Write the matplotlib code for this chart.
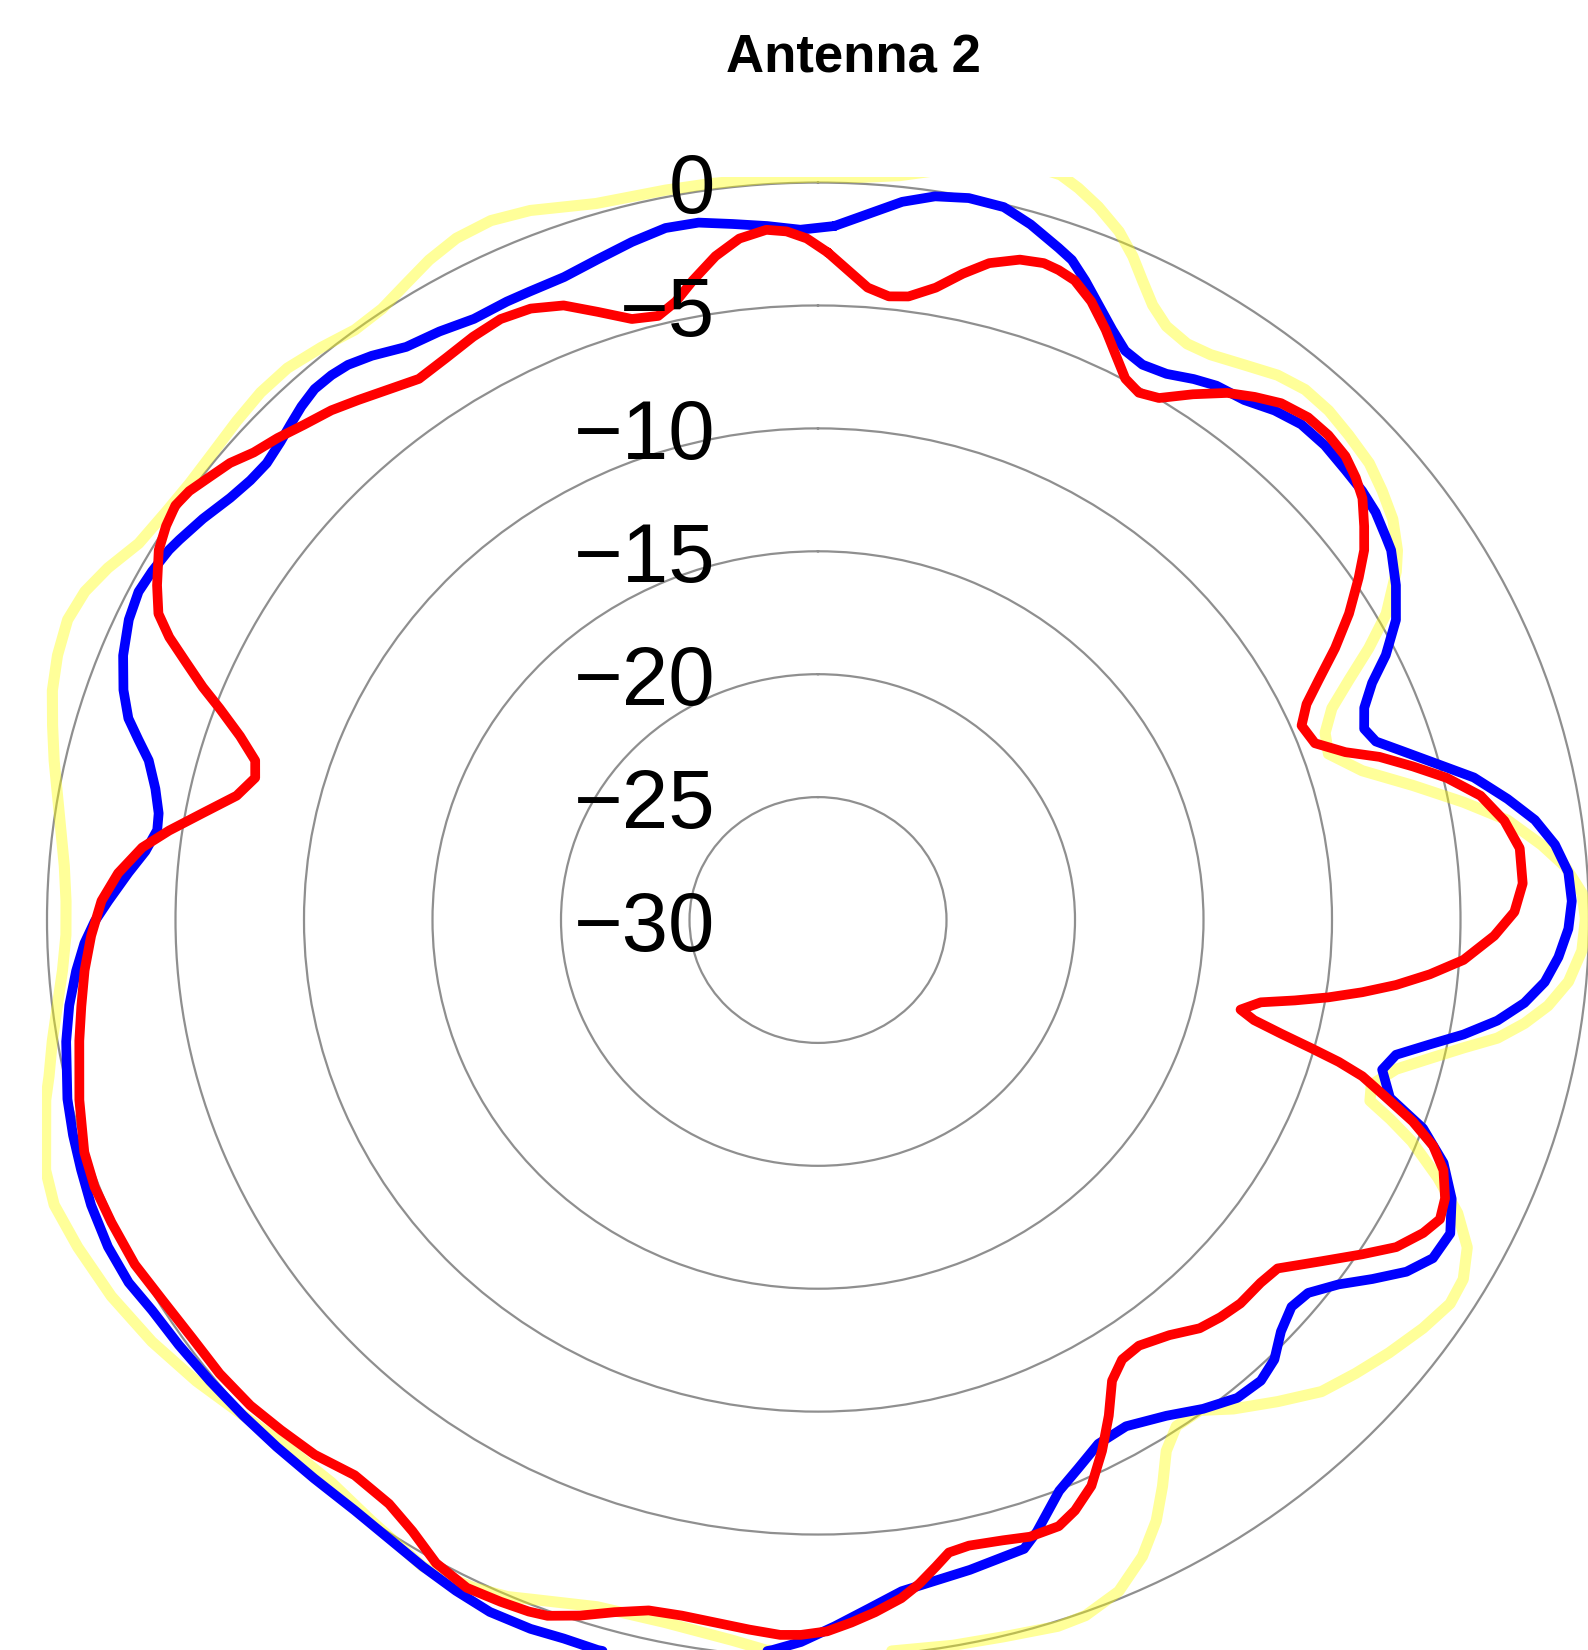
import numpy as np
import matplotlib
matplotlib.use('Agg')
import matplotlib.pyplot as plt
from matplotlib.patches import Rectangle
from matplotlib.transforms import offset_copy

plt.rcParams['font.family'] = ['Liberation Sans', 'DejaVu Sans']

title = 'Antenna 2'
ring_levels = [-25, -20, -15, -10, -5, 0]
label_levels = [0, -5, -10, -15, -20, -25, -30]
label_texts = ['0', '\u22125', '\u221210', '\u221215', '\u221220', '\u221225', '\u221230']

# angle in degrees, clockwise from the top; level in dB
blue_theta = [1.3, 3.9, 6.4, 8.8, 11.3, 14.0, 16.3, 18.9, 20.2, 21.8,
              23.6, 25.5, 27.3, 29.2, 31.4, 33.6, 35.5, 38.1, 40.6, 43.0,
              45.6, 48.3, 50.5, 52.6, 54.8, 56.0, 58.8, 61.5, 64.0, 65.9,
              67.9, 69.9, 71.5, 73.2, 75.2, 77.2, 79.6, 81.7, 83.9, 86.2,
              88.5, 90.7, 93.0, 95.1, 97.0, 98.8, 100.5, 102.0, 103.7, 105.5,
              108.0, 109.8, 112.1, 114.7, 117.4, 119.9, 122.0, 124.1, 126.2, 128.5,
              130.5, 132.9, 135.2, 137.4, 140.0, 143.0, 146.1, 149.8, 152.9, 155.6,
              158.0, 161.1, 162.6, 167.4, 170.3, 173.2, 176.0, 178.7, 181.3, 183.4,
              187.0, 191.0, 194.0, 196.1, 198.7, 201.2, 204.4, 207.3, 210.3, 213.6,
              216.9, 220.8, 224.5, 228.0, 231.6, 235.2, 238.5, 241.2, 244.3, 247.7,
              250.5, 253.2, 256.0, 260.4, 263.2, 265.9, 268.1, 269.9, 271.6, 274.1,
              276.1, 278.1, 279.6, 281.7, 284.0, 285.5, 287.0, 289.1, 291.7, 294.5,
              296.8, 298.7, 300.8, 301.9, 304.3, 306.9, 309.0, 310.9, 312.9, 314.5,
              316.1, 317.8, 319.5, 321.0, 322.9, 325.5, 328.4, 331.3, 334.3, 336.3,
              339.3, 342.3, 345.3, 348.1, 350.7, 353.3, 356.0, 358.6]
blue_db = [-1.76, -1.21, -0.60, -0.21, -0.05, -0.11, -0.52, -1.10, -1.39, -1.99,
           -2.71, -3.40, -3.94, -4.12, -3.97, -3.58, -3.30, -3.12, -2.70, -2.43,
           -2.40, -2.50, -2.56, -2.69, -2.96, -3.10, -3.71, -4.41, -5.42, -6.38,
           -7.06, -7.37, -7.11, -6.24, -5.11, -3.83, -2.72, -1.81, -1.16, -0.74,
           -0.66, -0.80, -1.15, -1.61, -2.31, -3.25, -4.45, -5.66, -6.85, -7.22,
           -6.60, -4.98, -3.73, -2.86, -2.29, -2.40, -3.00, -3.95, -4.90, -5.63,
           -5.77, -5.41, -4.80, -4.54, -4.62, -5.10, -5.70, -6.17, -6.06, -5.50,
           -4.95, -3.70, -3.19, -2.91, -2.74, -2.50, -1.91, -1.26, -0.62, -0.25,
           0.30, 0.70, 0.85, 0.91, 0.86, 0.93, 0.91, 0.71, 0.47, 0.20,
           0.03, 0.01, 0.05, 0.11, 0.19, 0.29, 0.39, 0.61, 0.66, 0.57,
           0.42, 0.28, 0.10, -0.33, -0.66, -1.06, -1.44, -1.86, -2.37, -3.10,
           -3.68, -4.03, -3.98, -3.67, -3.16, -2.56, -1.94, -1.40, -0.90, -0.53,
           -0.38, -0.46, -0.60, -0.73, -1.03, -1.40, -1.58, -1.62, -1.44, -1.23,
           -1.01, -0.84, -0.85, -0.94, -1.22, -1.71, -1.89, -2.12, -2.08, -2.08,
           -2.04, -1.79, -1.48, -1.23, -1.25, -1.49, -1.70, -1.91]

red_theta = [0.8, 2.5, 4.3, 6.2, 7.9, 10.1, 12.1, 14.0, 16.3, 18.2,
             19.5, 21.0, 22.9, 25.0, 26.7, 28.5, 30.2, 32.0, 34.3, 36.6,
             38.6, 40.6, 43.0, 45.2, 47.4, 49.3, 51.0, 53.0, 54.7, 56.5,
             58.9, 61.2, 63.4, 65.2, 67.2, 69.6, 71.6, 73.1, 74.9, 76.7,
             78.9, 81.4, 83.9, 86.9, 89.3, 91.4, 93.7, 95.3, 96.7, 97.9,
             99.0, 100.0, 101.0, 102.5, 103.5, 104.4, 105.2, 105.9, 106.7, 107.9,
             109.5, 111.0, 112.7, 114.9, 116.7, 118.4, 120.6, 122.7, 125.3, 128.4,
             130.6, 133.5, 135.9, 138.2, 141.0, 144.2, 146.5, 148.6, 150.7, 152.9,
             155.2, 157.4, 159.2, 161.8, 164.1, 167.0, 168.8, 170.1, 171.7, 173.3,
             175.5, 177.4, 179.3, 181.3, 182.9, 185.3, 187.9, 190.6, 193.2, 195.7,
             198.1, 200.4, 201.8, 204.0, 206.7, 209.6, 212.4, 215.1, 218.6, 222.0,
             225.2, 228.2, 231.6, 235.0, 238.8, 242.2, 245.9, 248.9, 251.7, 255.7,
             260.3, 263.0, 265.9, 268.7, 271.6, 274.0, 276.4, 278.2, 280.3, 282.6,
             284.8, 286.5, 288.4, 290.3, 291.6, 293.1, 294.5, 295.9, 297.9, 300.4,
             302.3, 304.0, 305.5, 307.3, 309.1, 310.9, 313.0, 315.2, 317.6, 319.8,
             322.3, 324.8, 327.7, 330.5, 333.2, 335.8, 338.4, 340.9, 343.5, 345.8,
             347.6, 349.4, 351.6, 353.7, 355.9, 357.5, 359.1]
red_db = [-2.84, -3.53, -4.20, -4.48, -4.39, -3.87, -3.11, -2.46, -2.01, -1.87,
          -1.95, -2.13, -2.68, -3.51, -4.24, -4.94, -5.18, -4.96, -4.11, -3.29,
          -2.77, -2.31, -2.04, -2.01, -2.12, -2.40, -2.74, -3.39, -3.96, -4.77,
          -5.87, -7.04, -8.22, -9.06, -9.59, -9.37, -8.37, -7.17, -6.02, -4.86,
          -3.73, -2.99, -2.54, -2.54, -2.90, -3.68, -4.83, -6.09, -7.35, -8.62,
          -9.89, -11.16, -12.45, -13.16, -12.55, -11.39, -10.11, -8.93, -7.89, -6.90,
          -5.45, -4.36, -3.62, -3.10, -2.91, -3.23, -3.86, -4.83, -5.98, -7.18,
          -7.32, -7.34, -7.50, -7.72, -8.27, -8.65, -8.56, -8.04, -6.88, -5.74,
          -4.64, -3.98, -3.62, -3.59, -3.76, -3.88, -3.77, -3.30, -2.71, -2.22,
          -1.75, -1.39, -1.06, -0.91, -0.88, -1.01, -1.14, -1.21, -1.15, -0.75,
          -0.23, 0.20, 0.30, 0.36, 0.41, 0.09, -0.55, -0.97, -1.10, -0.73,
          -0.55, -0.37, -0.29, -0.30, -0.17, 0.05, 0.12, 0.17, 0.07, -0.34,
          -0.84, -1.12, -1.39, -1.71, -2.11, -2.70, -3.54, -4.49, -5.67, -6.82,
          -7.35, -7.16, -6.30, -5.17, -4.25, -3.26, -2.26, -1.47, -0.90, -0.26,
          0.01, 0.16, 0.05, -0.25, -0.52, -0.95, -1.25, -1.61, -1.92, -2.30,
          -2.71, -3.06, -2.94, -2.74, -2.61, -2.73, -3.11, -3.82, -4.50, -4.65,
          -4.24, -3.53, -2.70, -2.11, -1.85, -1.96, -2.27]

yellow_theta = [0.0, 3.0, 6.0, 9.0, 12.0, 15.0, 17.3, 18.8, 20.6, 22.7,
                24.4, 25.9, 27.5, 29.3, 31.5, 33.6, 36.3, 38.9, 41.3, 43.8,
                46.3, 49.1, 51.5, 53.9, 56.3, 57.8, 60.6, 62.7, 64.7, 66.7,
                68.9, 71.2, 74.0, 76.7, 79.2, 81.4, 83.8, 85.7, 87.9, 89.9,
                92.4, 94.9, 97.0, 98.7, 100.3, 101.7, 103.3, 105.1, 107.3, 108.9,
                110.0, 111.3, 113.5, 115.6, 117.8, 120.2, 122.4, 125.2, 128.4, 131.4,
                134.4, 137.6, 140.9, 143.3, 145.9, 147.9, 149.8, 151.7, 154.0, 156.8,
                159.8, 162.0, 166.1, 169.9, 173.7, 177.0, 180.0, 183.9, 186.5, 191.8,
                197.1, 202.0, 203.7, 206.3, 210.3, 215.4, 219.6, 223.9, 228.0, 232.2,
                236.5, 240.9, 245.2, 248.7, 251.3, 256.3, 258.0, 260.6, 263.3, 266.0,
                268.8, 271.5, 274.3, 277.0, 279.7, 282.3, 284.9, 287.4, 290.0, 292.7,
                295.1, 297.4, 300.1, 303.2, 306.0, 308.9, 311.9, 314.7, 317.4, 320.3,
                323.1, 325.7, 328.2, 330.6, 333.1, 335.9, 338.8, 343.5, 348.7, 352.0,
                356.0]
yellow_db = [0.23, 0.25, 0.45, 0.90, 1.40, 1.80, 1.75, 1.45, 1.00, 0.36,
             -0.35, -1.09, -1.80, -2.30, -2.51, -2.39, -1.98, -1.52, -1.28, -1.29,
             -1.44, -1.62, -1.95, -2.32, -2.90, -3.41, -4.62, -5.88, -7.15, -8.23,
             -8.85, -9.02, -7.97, -6.21, -4.43, -2.86, -1.68, -0.85, -0.25, -0.14,
             -0.25, -0.69, -1.38, -2.19, -3.13, -4.35, -5.53, -6.70, -7.45, -7.30,
             -6.30, -5.20, -3.70, -2.40, -1.44, -0.95, -0.87, -1.19, -1.65, -2.11,
             -2.58, -3.47, -4.37, -5.12, -5.13, -4.50, -3.35, -2.24, -1.20, -0.29,
             0.15, 0.21, 0.04, -0.03, -0.12, -0.10, -0.10, -0.23, -0.51, -0.81,
             -0.77, -0.20, 0.06, 0.29, 0.47, -0.01, -0.30, -0.23, 0.11, 0.61,
             1.08, 1.47, 1.73, 1.90, 1.73, 0.93, 0.59, 0.20, -0.20, -0.53,
             -0.73, -0.73, -0.59, -0.32, 0.02, 0.42, 0.82, 1.22, 1.49, 1.65,
             1.50, 1.12, 0.55, 0.32, 0.22, 0.26, 0.39, 0.51, 0.50, 0.27,
             0.02, 0.10, 0.44, 0.82, 1.10, 1.17, 0.96, 0.40, 0.28, 0.25,
             0.23]

fig = plt.figure(figsize=(15.88, 16.5), dpi=100)
ax = fig.add_axes([0.0262, -0.00764, 0.97783, 0.90012], projection='polar')
ax.set_aspect('auto')
ax.set_theta_zero_location('N')
ax.set_theta_direction(-1)

# the plot region clips the curves as a rectangle, not as the circle
frame = Rectangle((0, 0), 1, 1, transform=ax.transAxes)
series = [(yellow_theta, yellow_db, '#ffff00', 0.4, 8.0),
          (blue_theta, blue_db, '#0000ff', 1.0, 7.0),
          (red_theta, red_db, '#ff0000', 1.0, 7.0)]
for th, db, col, alpha, lw in series:
    th = np.radians(np.append(th, th[0] + 360))
    db = np.append(db, db[0])
    line, = ax.plot(th, db, color=col, alpha=alpha, lw=lw,
                    solid_joinstyle='round', solid_capstyle='round')
    line.set_clip_path(frame)

ax.set_xticks([])
ax.set_rticks(ring_levels)
ax.set_yticklabels([])
ax.tick_params(axis='y', length=0)
ax.yaxis.grid(True, color='#8f8f8f', lw=1.6)
ax.set_rlim(-30, 0.21)
ax.spines['polar'].set_visible(False)
ax.patch.set_visible(False)

trans = offset_copy(ax.transData, fig=fig, x=-103, y=0, units='dots')
for lev, txt in zip(label_levels, label_texts):
    ax.text(0, lev, txt, transform=trans, ha='right', va='center_baseline',
            fontsize=60, color='black')

fig.text(853 / 1588, 1 - 52.6 / 1650, title, ha='center', va='center_baseline',
         fontsize=38, fontweight='bold')

fig.savefig('out.png', dpi=100)
